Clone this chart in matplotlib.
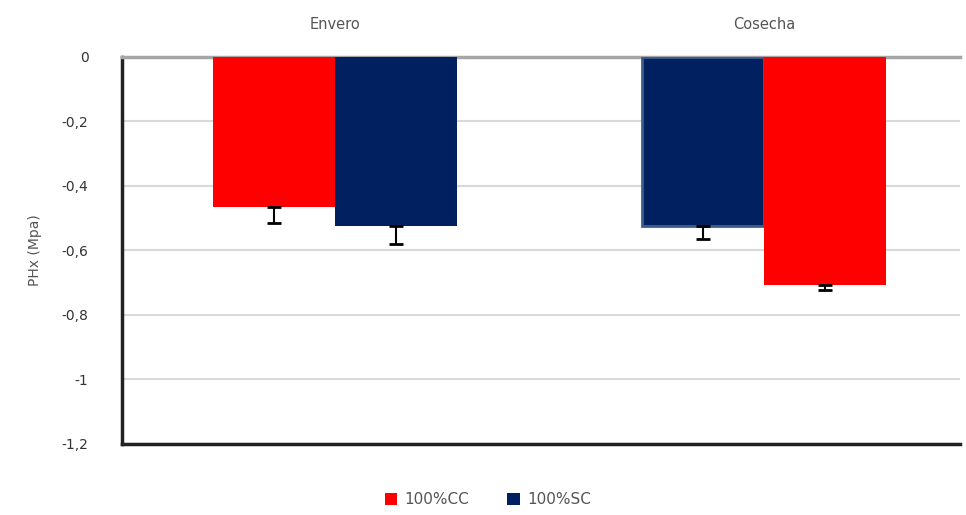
import matplotlib.pyplot as plt
import numpy as np
from matplotlib.ticker import FuncFormatter

categories = ["Envero", "Cosecha"]
series_names = ["100%CC", "100%SC"]
cc_values = [-0.465, -0.707]
sc_values = [-0.524, -0.526]
cc_errors = [0.05, 0.015]
sc_errors = [0.055, 0.04]
# bar order inside each group
group_order = [["100%CC", "100%SC"], ["100%SC", "100%CC"]]
yticks = [0, -0.2, -0.4, -0.6, -0.8, -1.0, -1.2]

colors = {"100%CC": "#ff0000", "100%SC": "#002060"}
values = {"100%CC": cc_values, "100%SC": sc_values}
errors = {"100%CC": cc_errors, "100%SC": sc_errors}

fig = plt.figure(figsize=(9.66, 5.15), dpi=100)
ax = fig.add_axes([0.126, 0.138, 0.868, 0.752])

width = 0.284
x = np.arange(len(categories))
handles = {}
for i, cat in enumerate(categories):
    for j, name in enumerate(group_order[i]):
        pos = x[i] + (j - 0.5) * width
        val = values[name][i]
        outlined = (i == 1 and name == "100%SC")
        b = ax.bar(pos, val, width, color=colors[name],
                   edgecolor="#3a5f8f" if outlined else colors[name],
                   linewidth=2 if outlined else 0, zorder=3)
        ax.errorbar(pos, val, yerr=[[errors[name][i]], [0]], fmt="none",
                    ecolor="black", elinewidth=1.5, capsize=5, capthick=2, zorder=4)
        if name not in handles:
            handles[name] = b

ax.set_ylim(-1.2, 0)
ax.set_xlim(-0.497, 1.457)
ax.set_yticks(yticks)
ax.yaxis.set_major_formatter(FuncFormatter(
    lambda v, p: ("%g" % round(v, 1)).replace(".", ",") if v != 0 else "0"))
ax.xaxis.tick_top()
ax.set_xticks(x)
ax.set_xticklabels(categories, fontsize=10.5, color="#555555")
ax.tick_params(axis="x", length=0, pad=18)
ax.tick_params(axis="y", length=0, labelsize=10, pad=24, labelcolor="#333333")
ax.set_ylabel("PHx (Mpa)", fontsize=10, color="#555555", labelpad=14)

ax.yaxis.grid(True, color="#d9d9d9", linewidth=1.5, zorder=0)
ax.spines["right"].set_visible(False)
ax.spines["top"].set_color("#a6a6a6")
ax.spines["top"].set_linewidth(2.5)
ax.spines["left"].set_color("#222222")
ax.spines["left"].set_linewidth(2.5)
ax.spines["bottom"].set_color("#222222")
ax.spines["bottom"].set_linewidth(2.5)

fig.legend([handles[n] for n in series_names], series_names, loc="lower center",
           bbox_to_anchor=(0.505, -0.012), ncol=2, frameon=False, fontsize=11,
           handlelength=0.8, handleheight=0.8, columnspacing=2.5,
           handletextpad=0.5, labelcolor="#555555")

fig.savefig("out.png", dpi=100)
